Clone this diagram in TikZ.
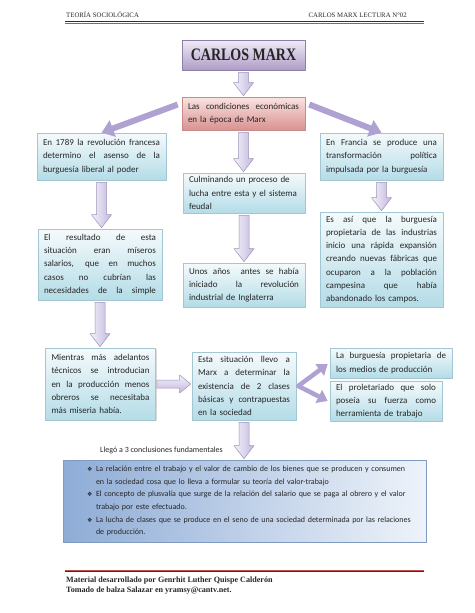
\documentclass[tikz,border=0pt]{standalone}
\usepackage{graphicx}
\usepackage{fontspec}
\setmainfont{Carlito}
\newfontfamily\headfont{Liberation Serif}
\newfontfamily\symfont{DejaVu Sans}
\usetikzlibrary{arrows.meta}
\usetikzlibrary{shadows}
\usetikzlibrary{calc}

\definecolor{txt}{HTML}{262626}
\definecolor{boxtop}{HTML}{F5FAFC}
\definecolor{boxbot}{HTML}{B4DCE7}
\definecolor{boxedge}{HTML}{A3C6D3}
\definecolor{titletop}{HTML}{F1ECF7}
\definecolor{titlebot}{HTML}{AE9CC6}
\definecolor{titleedge}{HTML}{8E7FA8}
\definecolor{condtop}{HTML}{FAE3E2}
\definecolor{condbot}{HTML}{D99290}
\definecolor{condedge}{HTML}{C98A88}
\definecolor{concldark}{HTML}{8EACD6}
\definecolor{concllight}{HTML}{EEF3FA}
\definecolor{concledge}{HTML}{7F9CC0}
\definecolor{arrowlight}{HTML}{F4F1FA}
\definecolor{arrowdark}{HTML}{C3B8DD}
\definecolor{arrowedge}{HTML}{9E93B8}
\definecolor{arrowdiag}{HTML}{AFA2D2}
\definecolor{ruledark}{HTML}{5C1F1F}
\definecolor{rulelight}{HTML}{C0504D}

% one justified line inside a box
\newcommand\jline[1]{\makebox[\hsize][s]{\spaceskip=0pt\relax #1}}
\newcommand\jl[1]{\jline{#1}\\}
% bullet for the conclusions
\newcommand\bul{\hspace*{20pt}\makebox[9pt][l]{\symfont\fontsize{6}{6}\selectfont ❖}}
\newcommand\cont{\hspace*{29pt}}

% block arrows between two nodes
\newcommand\blkdown[2]{%
  \path[blockarrow] let \p1=(#1), \p2=(#2) in
    (\x1-5pt,\y1-2pt) -- (\x1+5pt,\y1-2pt) -- (\x1+5pt,\y2+14pt) -- (\x1+10pt,\y2+14pt)
    -- (\x1,\y2+1pt) -- (\x1-10pt,\y2+14pt) -- (\x1-5pt,\y2+14pt) -- cycle;}
\newcommand\blkright[2]{%
  \path[blockarrow, top color=arrowlight, bottom color=arrowdark] let \p1=(#1), \p2=(#2) in
    (\x1+1pt,\y1+4pt) -- (\x2-12pt,\y1+4pt) -- (\x2-12pt,\y1+9pt) -- (\x2-1pt,\y1)
    -- (\x2-12pt,\y1-9pt) -- (\x2-12pt,\y1-4pt) -- (\x1+1pt,\y1-4pt) -- cycle;}

\tikzset{
  infobox/.style={draw=boxedge, line width=0.6pt, top color=boxtop, bottom color=boxbot,
    drop shadow={opacity=0.3, shadow xshift=1.2pt, shadow yshift=-1.2pt},
    inner xsep=6pt, inner ysep=3pt, align=left, text=txt,
    font=\fontsize{9}{13.3}\selectfont},
  titlebox/.style={infobox, draw=titleedge, top color=titletop, bottom color=titlebot,
    minimum width=123pt, minimum height=30pt, inner sep=0pt,
    font=\headfont\bfseries\fontsize{14}{14}\selectfont},
  condbox/.style={infobox, draw=condedge, top color=condtop, bottom color=condbot},
  conclbox/.style={draw=concledge, line width=0.6pt, left color=concldark, right color=concllight,
    drop shadow={opacity=0.3, shadow xshift=1.2pt, shadow yshift=-1.2pt},
    minimum width=363pt, minimum height=82pt, inner sep=0pt, text width=355pt,
    align=left, text=txt, font=\fontsize{8}{12.6}\selectfont},
  blockarrow/.style={draw=arrowedge, line width=0.5pt, left color=arrowlight, right color=arrowdark},
  diagarrow/.style={draw=arrowdiag, line width=6pt, -{Triangle[length=12pt,width=17pt]}},
  chevarrow/.style={draw=arrowdiag, line width=4.5pt, line cap=round, -{Triangle[length=10pt,width=14pt]}},
  headtext/.style={inner sep=0pt, text=txt, font=\headfont\fontsize{6.8}{7}\selectfont},
  foottext/.style={inner sep=0pt, text=txt, font=\headfont\bfseries\fontsize{8.1}{8.5}\selectfont},
}

\begin{document}
\begin{tikzpicture}[line join=round, x=1pt, y=-1pt]
\useasboundingbox (0,0) rectangle (474,613);

% header and footer
\node[headtext, anchor=base west] (headl) at (66,17.5) {TEORÍA SOCIOLÓGICA};
\node[headtext, anchor=base east] (headr) at (407,17.5) {CARLOS MARX LECTURA N°02};
\coordinate (topl) at (65,21.5);
\coordinate (topr) at (424,21.5);
\draw[ruledark, line width=1.8pt] (topl) -- (topr);
\draw[rulelight, line width=0.5pt] ($(topl)+(0,1.7)$) -- ($(topr)+(0,1.7)$);
\coordinate (botl) at (65,571.5);
\coordinate (botr) at (424,571.5);
\draw[ruledark, line width=1.8pt] (botl) -- (botr);
\draw[rulelight, line width=0.5pt] ($(botl)+(0,-1.7)$) -- ($(botr)+(0,-1.7)$);
\node[foottext, anchor=base west] (foot1) at (66,582) {Material desarrollado por Genrhit Luther Quispe Calderón};
\node[foottext, anchor=base west] (foot2) at (66,592) {Tomado de balza Salazar en yramsy@cantv.net.};

% top of the map
\node[titlebox] (title) at (243.5,55) {\scalebox{1}[1.25]{CARLOS MARX}};
\node[condbox, text width=111pt, minimum height=33pt] (cond) at (243.5,113.5)
  {\jl{Las condiciones económicas}en la época de Marx};

% left column
\node[infobox, text width=117pt, minimum height=47pt] (left1) at (101.5,156.5)
  {\jl{En 1789 la revolución francesa}\jl{determino el asenso de la}burguesía liberal al poder};
\node[infobox, text width=112pt, minimum height=71pt] (left2) at (100,264.5)
  {\jl{El resultado de esta}\jl{situación eran míseros}\jl{salarios, que en muchos}\jl{casos no cubrían las}\jline{necesidades de la simple}};
\node[infobox, text width=98pt, minimum height=72pt] (left3) at (100.5,384)
  {\jl{Mientras más adelantos}\jl{técnicos se introducian}\jl{en la producción menos}\jl{obreros se necesitaba}más miseria había.};

% centre column
\node[infobox, text width=110pt, minimum height=40pt] (cent1) at (244,193)
  {Culminando un proceso de\\lucha entre esta y el sistema\\feudal};
\node[infobox, text width=110pt, minimum height=44pt] (cent2) at (244,285)
  {\jl{Unos años \ antes se había}\jl{iniciado la revolución}industrial de Inglaterra};
\node[infobox, text width=92pt, minimum height=68pt] (mid) at (244,386)
  {\jl{Esta situación llevo a}\jl{Marx a determinar la}\jl{existencia de 2 clases}\jl{básicas y contrapuestas}en la sociedad};

% right column
\node[infobox, text width=111pt, minimum height=47pt] (right1) at (381.5,156.5)
  {\jl{En Francia se produce una}\jl{transformación política}impulsada por la burguesía};
\node[infobox, text width=111pt, minimum height=95pt] (right2) at (381.5,259.5)
  {\jl{Es así que la burguesía}\jl{propietaria de las industrias}\jl{inicio una rápida expansión}\jl{creando nuevas fábricas que}\jl{ocuparon a la población}\jl{campesina que había}abandonado los campos.};
\node[infobox, text width=110pt, minimum height=30pt] (classa) at (391,363)
  {\jl{La burguesía propietaria de}los medios de producción};
\node[infobox, text width=100pt, minimum height=38pt] (classb) at (386,401)
  {\jl{El proletariado que solo}\jl{poseía su fuerza como}herramienta de trabajo};

% conclusions
\node[anchor=west, inner sep=0pt, text=txt, font=\fontsize{8}{8.5}\selectfont] (concllabel) at (100,450)
  {Llegó a 3 conclusiones fundamentales};
\node[conclbox] (concl) at (244.5,501)
  {\bul La relación entre el trabajo y el valor de cambio de los bienes que se producen y consumen\\
   \cont en la sociedad cosa que lo lleva a formular su teoría del valor-trabajo\\
   \bul El concepto de plusvalía que surge de la relación del salario que se paga al obrero y el valor\\
   \cont trabajo por este efectuado.\\
   \bul La lucha de clases que se produce en el seno de una sociedad determinada por las relaciones\\
   \cont de producción.};

% arrows
\blkdown{title.south}{cond.north}
\blkdown{cond.south}{cent1.north}
\blkdown{cent1.south}{cent2.north}
\blkdown{left1.south}{left2.north}
\blkdown{left2.south}{left3.north}
\blkdown{right1.south}{right2.north}
\blkdown{mid.south}{concl.north}
\blkright{left3.east}{mid.west}
\draw[diagarrow] ($(cond.west)+(-4,-9)$) -- (left1.north);
\draw[diagarrow] ($(cond.east)+(4,-9)$) -- (right1.north);
\draw[chevarrow] ($(mid.east)+(2,0)$) -- ($(classa.west)+(-2,1)$);
\draw[chevarrow] ($(mid.east)+(2,0)$) -- ($(classb.west)+(-2,0)$);
\end{tikzpicture}
\end{document}
